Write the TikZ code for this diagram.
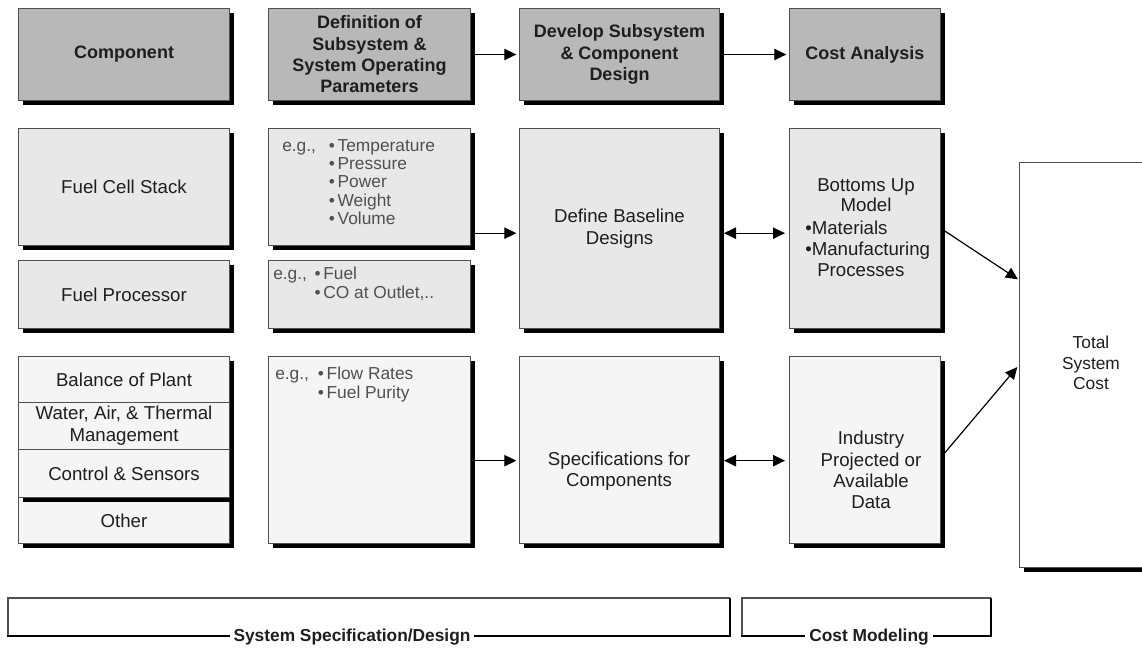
\documentclass[tikz,border=0pt]{standalone}
\usepackage{fontspec}
\setmainfont{Liberation Sans}
\usetikzlibrary{shadows,arrows.meta,calc}
\definecolor{hdrgray}{RGB}{184,184,184}
\definecolor{midgray}{RGB}{232,232,232}
\definecolor{litegray}{RGB}{245,245,245}
\definecolor{edge}{RGB}{80,80,80}
\definecolor{egtext}{RGB}{80,80,80}
\definecolor{ink}{RGB}{30,30,30}
\begin{document}
\begin{tikzpicture}[x=0.75pt,y=-0.75pt,
  sz/.style 2 args={minimum width=#1*0.75pt, minimum height=#2*0.75pt, anchor=north west},
  box/.style={draw=edge, line width=0.75pt, inner sep=0pt, align=center, text=ink},
  shad/.style={drop shadow={shadow xshift=3pt, shadow yshift=-3pt, fill=black, opacity=1}},
  hdr/.style={box, shad, fill=hdrgray, font=\bfseries\fontsize{13.5}{16}\selectfont},
  mid/.style={box, shad, fill=midgray, font=\fontsize{14}{16}\selectfont},
  lite/.style={box, shad, fill=litegray, font=\fontsize{14}{16.5}\selectfont},
  flat/.style={box, fill=litegray, font=\fontsize{14}{16.5}\selectfont},
  eg/.style={anchor=north west, inner sep=0pt, align=left, text=egtext, font=\fontsize{13}{13.7}\selectfont},
  txt/.style={inner sep=0pt, align=center, text=ink, font=\fontsize{14}{16}\selectfont},
  arr/.style={-{Triangle[length=9pt,width=8.5pt]}, line width=0.9pt},
  darr/.style={{Triangle[length=9pt,width=8.5pt]}-{Triangle[length=9pt,width=8.5pt]}, line width=0.9pt},
  band/.style={font=\bfseries\fontsize{13}{15}\selectfont, text=ink, fill=white, inner xsep=3pt, inner ysep=1pt}
]
\useasboundingbox[fill=white] (0,0) rectangle (1142,651);

% header row
\node[hdr, sz={211}{92}] (comp) at (18,8) {Component};
\node[hdr, sz={202}{92}] (defn) at (268,8) {Definition of\\Subsystem \&\\System Operating\\Parameters};
\node[hdr, sz={200}{92}] (dev) at (519,8) {Develop Subsystem\\\& Component\\Design};
\node[hdr, sz={151}{92}] (cost) at (789,8) {Cost Analysis};

% second row
\node[mid, sz={211}{117}] (fcs) at (18,128) {Fuel Cell Stack};
\node[mid, sz={202}{117}] (eg1) at (268,128) {};
\node[eg] (eg1t) at (282,139) {\makebox[35pt][l]{e.g.,}•\kern2pt Temperature\\
  \makebox[35pt]{}•\kern2pt Pressure\\
  \makebox[35pt]{}•\kern2pt Power\\
  \makebox[35pt]{}•\kern2pt Weight\\
  \makebox[35pt]{}•\kern2pt Volume};
\node[mid, sz={200}{200}] (base) at (519,128) {Define Baseline\\Designs};
\node[mid, sz={151}{200}] (bot) at (789,128) {};
\node[txt, font=\fontsize{14}{15.5}\selectfont] (bott) at (866,195) {Bottoms Up\\Model};
\node[txt, anchor=north west, align=left, font=\fontsize{14}{15.75}\selectfont] (botl) at (805,221)
  {•Materials\\•Manufacturing\\\makebox[9pt]{}Processes};

% third row
\node[mid, sz={211}{68}] (fp) at (18,260) {Fuel Processor};
\node[mid, sz={202}{68}] (eg2) at (268,260) {};
\node[eg] (eg2t) at (273,267) {\makebox[31pt][l]{e.g.,}•\kern2pt Fuel\\
  \makebox[31pt]{}•\kern2pt CO at Outlet,..};

% fourth row
\node[lite, sz={211}{46}] (other) at (18,497) {Other};
\node[lite, sz={211}{141}] (grp) at (18,356) {};
\node[flat, sz={211}{46}] (bop) at (18,356) {Balance of Plant};
\node[flat, sz={211}{47}] (water) at (18,402) {Water, Air, \& Thermal\\Management};
\node[flat, sz={211}{48}] (ctrl) at (18,449) {Control \& Sensors};
\node[lite, sz={202}{187}] (eg3) at (268,356) {};
\node[eg] (eg3t) at (275,367) {\makebox[32pt][l]{e.g.,}•\kern2pt Flow Rates\\
  \makebox[32pt]{}•\kern2pt Fuel Purity};
\node[lite, sz={200}{187}] (spec) at (519,356) {};
\node[txt] (spect) at (619,471) {Specifications for\\Components};
\node[lite, sz={151}{187}] (ind) at (789,356) {};
\node[txt] (indt) at (871,470) {Industry\\Projected or\\Available\\Data};

% total system cost
\node[box, shad, fill=white, sz={140}{405}] (total) at (1019,162) {};
\node[txt, font=\fontsize{13}{15.3}\selectfont] (totalt) at (1091,363) {Total\\System\\Cost};

% connectors
\draw[arr, shorten >=2pt] (defn.east) -- (dev.west);
\draw[arr, shorten >=2pt] (dev.east) -- (cost.west);
\coordinate (r2) at ([yshift=-3.5pt]base.west);
\draw[arr, shorten >=2pt] (eg1.east |- r2) -- (r2);
\draw[darr, shorten <=3pt, shorten >=3pt] (base.east |- r2) -- (bot.west |- r2);
\coordinate (r4) at ([yshift=-8pt]spec.west);
\draw[arr, shorten >=2pt] (eg3.east |- r4) -- (r4);
\draw[darr, shorten <=3pt, shorten >=3pt] (spec.east |- r4) -- (ind.west |- r4);
\coordinate (t1) at ([yshift=-88.5pt]total.north west);
\draw[arr, shorten <=3pt, shorten >=1pt] (bot.east) -- (t1);
\coordinate (i1) at ([yshift=-5.5pt]ind.east);
\draw[arr, shorten <=3pt, shorten >=2pt] (i1) -- (total.west);

% bottom bands
\draw[edge, line width=1pt] (8,636) -- (8,598) -- (730,598);
\draw[black, line width=1.6pt] (730,598) -- (730,636);
\draw[black, line width=2pt] (7,636) -- (731,636);
\node[band] (ssd) at (352,637) {System Specification/Design};
\draw[edge, line width=1pt] (742,636) -- (742,598) -- (991,598);
\draw[black, line width=1.6pt] (991,598) -- (991,636);
\draw[black, line width=2pt] (741,636) -- (992,636);
\node[band] (cm) at (869,637) {Cost Modeling};
\end{tikzpicture}
\end{document}
